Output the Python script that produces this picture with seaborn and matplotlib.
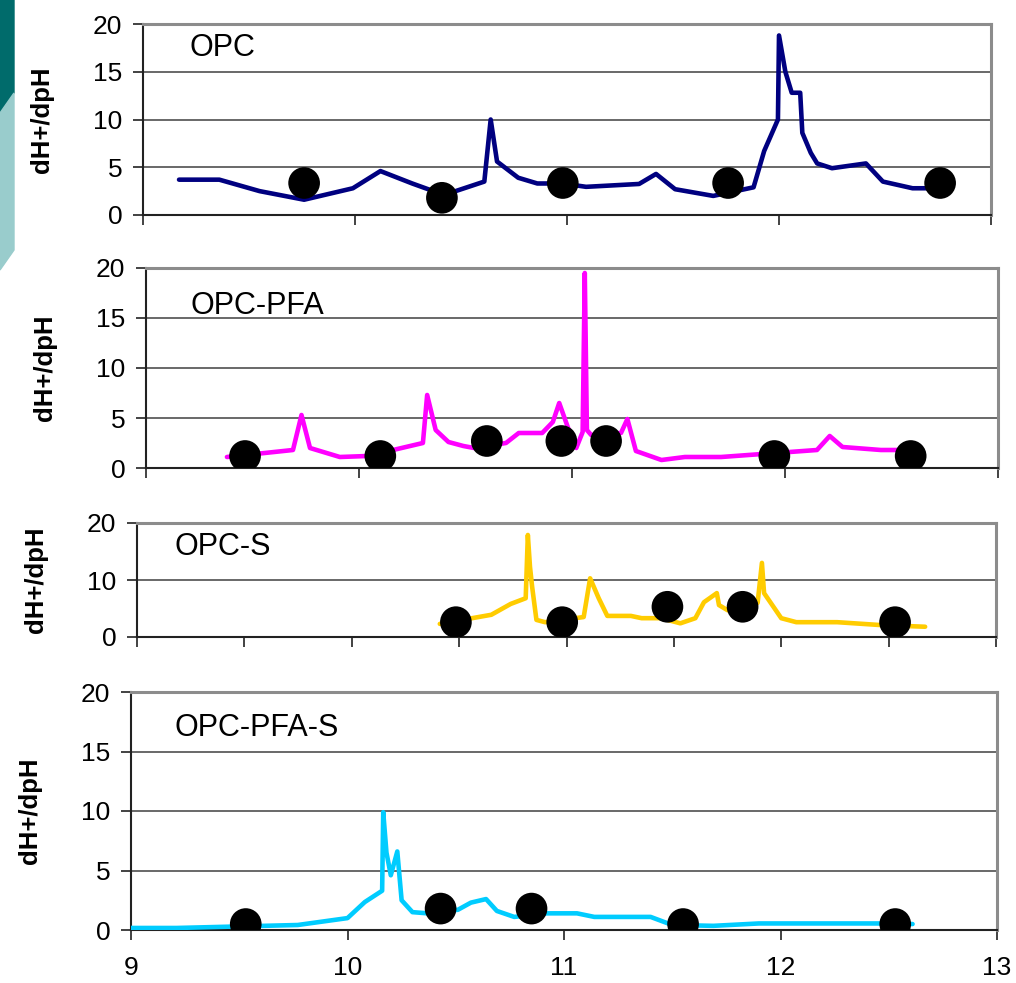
import numpy as np
import pandas as pd
import matplotlib
matplotlib.use("Agg")
import matplotlib.pyplot as plt
from matplotlib.patches import Polygon
import seaborn as sns

# OPC
opc_ph = [9.17, 9.36, 9.55, 9.76, 9.99, 10.12, 10.27, 10.42, 10.61, 10.64,
          10.67, 10.77, 10.86, 10.98, 11.09, 11.34, 11.42, 11.51, 11.69, 11.88,
          11.93, 11.995, 12.00, 12.03, 12.06, 12.10, 12.11, 12.15, 12.18, 12.25,
          12.41, 12.49, 12.63, 12.72]
opc_val = [3.7, 3.7, 2.5, 1.6, 2.8, 4.6, 3.3, 2.1, 3.5, 10.0,
           5.6, 3.9, 3.3, 3.3, 2.95, 3.25, 4.3, 2.7, 2.0, 2.9,
           6.7, 10.0, 18.8, 15.0, 12.8, 12.8, 8.6, 6.5, 5.4, 4.9,
           5.4, 3.5, 2.8, 2.8]
opc_dot_ph = [9.76, 10.41, 10.98, 11.76, 12.76]
opc_dot_val = [3.35, 1.8, 3.35, 3.35, 3.35]

# OPC-PFA
pfa_ph = [9.38, 9.69, 9.73, 9.77, 9.91, 10.04, 10.30, 10.32, 10.36, 10.42,
          10.49, 10.54, 10.69, 10.75, 10.86, 10.91, 10.94, 10.98, 11.02, 11.05,
          11.06, 11.07, 11.09, 11.23, 11.26, 11.30, 11.42, 11.53, 11.70, 12.15,
          12.21, 12.27, 12.45, 12.55]
pfa_val = [1.1, 1.8, 5.3, 2.0, 1.1, 1.2, 2.5, 7.3, 3.8, 2.6,
           2.2, 2.0, 2.5, 3.5, 3.5, 4.6, 6.5, 4.1, 2.0, 3.6,
           19.5, 3.8, 3.3, 3.5, 4.9, 1.7, 0.8, 1.1, 1.1, 1.8,
           3.2, 2.1, 1.8, 1.8]
pfa_dot_ph = [9.465, 10.10, 10.60, 10.95, 11.16, 11.95, 12.59]
pfa_dot_val = [1.2, 1.2, 2.7, 2.7, 2.7, 1.2, 1.2]

# OPC-S
s_ph = [10.41, 10.65, 10.74, 10.81, 10.82, 10.83, 10.84, 10.86, 10.90, 11.08,
        11.11, 11.15, 11.19, 11.30, 11.35, 11.44, 11.53, 11.60, 11.64, 11.70,
        11.71, 11.75, 11.89, 11.91, 11.92, 12.00, 12.07, 12.26, 12.46, 12.67]
s_val = [2.3, 3.9, 5.8, 6.8, 17.9, 12.3, 8.8, 3.0, 2.6, 3.5,
         10.3, 6.8, 3.7, 3.7, 3.3, 3.3, 2.4, 3.3, 6.1, 7.7,
         5.6, 4.7, 6.0, 13.0, 7.7, 3.3, 2.6, 2.6, 2.1, 1.8]
s_dot_ph = [10.485, 10.98, 11.47, 11.82, 12.53]
s_dot_val = [2.6, 2.6, 5.3, 5.3, 2.6]

# OPC-PFA-S
pfas_ph = [9.00, 9.21, 9.77, 10.00, 10.08, 10.16, 10.165, 10.18, 10.20, 10.23,
           10.25, 10.30, 10.37, 10.51, 10.57, 10.64, 10.69, 10.77, 10.92, 11.06,
           11.14, 11.40, 11.50, 11.69, 11.90, 12.47, 12.61]
pfas_val = [0.17, 0.17, 0.42, 1.0, 2.35, 3.3, 9.9, 6.5, 4.6, 6.6,
            2.5, 1.5, 1.4, 1.7, 2.3, 2.6, 1.6, 1.1, 1.4, 1.4,
            1.1, 1.1, 0.42, 0.35, 0.55, 0.55, 0.5]
pfas_dot_ph = [9.53, 10.43, 10.85, 11.55, 12.53]
pfas_dot_val = [0.5, 1.8, 1.8, 0.5, 0.5]

sns.set_style("white")
plt.rcParams['font.family'] = ['Liberation Sans', 'DejaVu Sans']
plt.rcParams['text.color'] = 'black'
plt.rcParams['axes.labelcolor'] = 'black'
plt.rcParams['xtick.color'] = 'black'
plt.rcParams['ytick.color'] = 'black'
plt.rcParams['xtick.labelsize'] = 19
plt.rcParams['ytick.labelsize'] = 19

fig = plt.figure(figsize=(10.16, 9.83), dpi=100)

# slide decoration in the corner
W, H = 1016, 983
def px(pts):
    return [(x / W, 1 - y / H) for x, y in pts]
fig.patches.append(Polygon(px([(0, 0), (14, 0), (14, 93), (0, 113)]),
                           closed=True, transform=fig.transFigure, color='#006B6B'))
fig.patches.append(Polygon(px([(0, 113), (14, 93), (14, 250), (0, 270)]),
                           closed=True, transform=fig.transFigure, color='#99CCCC'))

panels = [
    ("OPC", opc_ph, opc_val, opc_dot_ph, opc_dot_val, '#000080',
     [143, 24, 991, 215], [0, 5, 10, 15, 20], [9, 10, 11, 12, 13], (0.055, 0.874)),
    ("OPC-PFA", pfa_ph, pfa_val, pfa_dot_ph, pfa_dot_val, '#FF00FF',
     [146, 268, 998, 468], [0, 5, 10, 15, 20], [9, 10, 11, 12, 13], (0.052, 0.81)),
    ("OPC-S", s_ph, s_val, s_dot_ph, s_dot_val, '#FFCC00',
     [137, 523, 996, 637], [0, 10, 20], np.arange(9, 13.01, 0.5), (0.044, 0.79)),
    ("OPC-PFA-S", pfas_ph, pfas_val, pfas_dot_ph, pfas_dot_val, '#00CCFF',
     [131, 692, 997, 930], [0, 5, 10, 15, 20], [9, 10, 11, 12, 13], (0.05, 0.849)),
]

for i, (name, xs, ys, dx, dy, col, box, yt, xt, tpos) in enumerate(panels):
    l, t, r, b = box
    ax = fig.add_axes([l / W, 1 - b / H, (r - l) / W, (b - t) / H])
    line_df = pd.DataFrame({'pH': xs, 'v': ys})
    dot_df = pd.DataFrame({'pH': dx, 'v': dy})
    sns.lineplot(data=line_df, x='pH', y='v', estimator=None, sort=False,
                 color=col, linewidth=3.3, ax=ax, zorder=3)
    sns.scatterplot(data=dot_df, x='pH', y='v', color='black', s=520,
                    edgecolor='none', ax=ax, zorder=4)
    ax.set_xlim(9, 13)
    ax.set_ylim(0, 20)
    ax.set_yticks(yt)
    ax.set_xticks(xt)
    ax.yaxis.grid(True, color='#404040', linewidth=1.1)
    ax.set_axisbelow(True)
    for s in ['top', 'right']:
        ax.spines[s].set_color('#8c8c8c')
        ax.spines[s].set_linewidth(2.2)
    for s in ['left', 'bottom']:
        ax.spines[s].set_color('#222222')
        ax.spines[s].set_linewidth(1.5)
    ax.tick_params(axis='both', direction='out', length=7, width=1.2,
                   color='#222222', labelsize=19)
    ax.tick_params(axis='y', left=True, pad=8)
    ax.tick_params(axis='x', bottom=True, pad=12)
    if i < 3:
        ax.set_xticklabels([])
    for lab in ax.get_yticklabels() + ax.get_xticklabels():
        lab.set_fontsize(19)
    ax.set_xlabel('')
    ax.set_ylabel('dH+/dpH', fontsize=18.5, fontweight='bold', labelpad=28)
    ax.text(tpos[0], tpos[1], name, transform=ax.transAxes, fontsize=22,
            va='center', ha='left')

fig.savefig('out.png', dpi=100, facecolor='white')
